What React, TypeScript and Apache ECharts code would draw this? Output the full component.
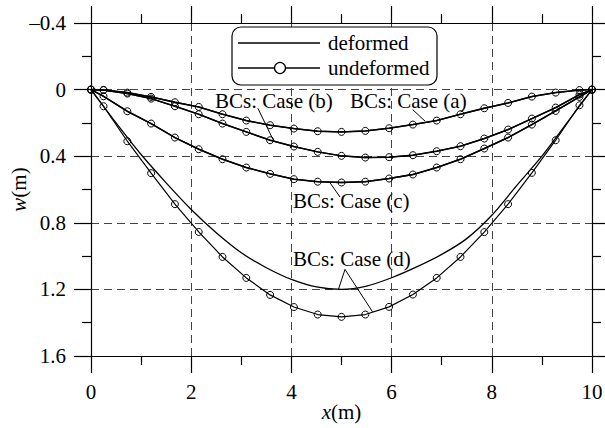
import React, { useEffect, useRef } from 'react';
import * as echarts from 'echarts';

// Node positions (m) of the undeformed configuration (markers)
const xNodes = [0, 0.25, 0.725, 1.2, 1.675, 2.15, 2.625, 3.1, 3.575, 4.05, 4.525, 5.0, 5.475, 5.95, 6.425, 6.9, 7.375, 7.85, 8.325, 8.8, 9.275, 9.75, 10];

// Undeformed deflection w (m), cases (a)-(d)
const caseAUndeformed = [0, 0.002, 0.018, 0.044, 0.076, 0.104, 0.148, 0.186, 0.214, 0.234, 0.25, 0.254, 0.248, 0.232, 0.21, 0.186, 0.148, 0.112, 0.08, 0.042, 0.018, 0.003, 0];
const caseBUndeformed = [0, 0.003, 0.024, 0.054, 0.1, 0.148, 0.204, 0.254, 0.304, 0.342, 0.374, 0.398, 0.408, 0.406, 0.394, 0.37, 0.34, 0.294, 0.24, 0.174, 0.108, 0.03, 0];
const caseCUndeformed = [0, 0.04, 0.13, 0.204, 0.288, 0.358, 0.418, 0.468, 0.506, 0.538, 0.553, 0.558, 0.553, 0.534, 0.51, 0.468, 0.418, 0.354, 0.288, 0.21, 0.128, 0.044, 0];
const caseDUndeformed = [0, 0.1, 0.31, 0.502, 0.688, 0.855, 1.005, 1.131, 1.233, 1.306, 1.351, 1.365, 1.351, 1.305, 1.231, 1.131, 1.005, 0.856, 0.688, 0.5, 0.304, 0.094, 0];

// Deformed deflection w (m): (a)-(c) coincide with the undeformed curves in the picture
const caseADeformed = [0, 0.002, 0.018, 0.044, 0.076, 0.104, 0.148, 0.186, 0.214, 0.234, 0.25, 0.254, 0.248, 0.232, 0.21, 0.186, 0.148, 0.112, 0.08, 0.042, 0.018, 0.003, 0];
const caseBDeformed = [0, 0.003, 0.024, 0.054, 0.1, 0.148, 0.204, 0.254, 0.304, 0.342, 0.374, 0.398, 0.408, 0.406, 0.394, 0.37, 0.34, 0.294, 0.24, 0.174, 0.108, 0.03, 0];
const caseCDeformed = [0, 0.04, 0.13, 0.204, 0.288, 0.358, 0.418, 0.468, 0.506, 0.538, 0.553, 0.558, 0.553, 0.534, 0.51, 0.468, 0.418, 0.354, 0.288, 0.21, 0.128, 0.044, 0];
const xDeformedD = [0, 0.5, 1, 1.5, 2, 2.5, 3, 3.5, 4, 4.5, 5, 5.5, 6, 6.5, 7, 7.5, 8, 8.5, 9, 9.5, 10];
const caseDDeformed = [0, 0.2, 0.39, 0.56, 0.72, 0.86, 0.98, 1.07, 1.14, 1.185, 1.2, 1.18, 1.13, 1.065, 0.99, 0.895, 0.755, 0.575, 0.4, 0.2, 0];

const legendNames = ['deformed', 'undeformed'];
const caseLabels = ['BCs: Case (a)', 'BCs: Case (b)', 'BCs: Case (c)', 'BCs: Case (d)'];

const FONT = "'Liberation Serif', 'Times New Roman', serif";

const pairs = (xs: number[], ys: number[]) => xs.map((x, i) => [x, ys[i]]);

export default function App() {
  const ref = useRef<HTMLDivElement>(null);
  useEffect(() => {
    document.body.style.margin = '0';
    const chart = echarts.init(ref.current!, null, { renderer: 'svg' });

    const undeformed = (ys: number[], lw: number) => ({
      type: 'line',
      name: legendNames[1],
      data: pairs(xNodes, ys),
      symbol: 'circle',
      symbolSize: 7,
      showSymbol: true,
      lineStyle: { color: '#000', width: lw },
      itemStyle: { color: 'rgba(0,0,0,0)', borderColor: '#000', borderWidth: 1 },
      z: 3,
      silent: true,
    });
    const deformed = (xs: number[], ys: number[], lw: number, smooth: any) => ({
      type: 'line',
      name: legendNames[0],
      data: pairs(xs, ys),
      symbol: 'none',
      smooth,
      lineStyle: { color: '#000', width: lw },
      z: 2,
      silent: true,
    });

    const axisCommon = {
      axisLine: { show: true, onZero: false, lineStyle: { color: '#000', width: 1.2 } },
      axisTick: { show: true, inside: false, length: 17, lineStyle: { color: '#000', width: 1.2 } },
      minorTick: { show: true, splitNumber: 2, length: 9, lineStyle: { color: '#000', width: 1.2 } },
    };
    const splitDashed = { show: true, lineStyle: { color: '#444', width: 1, type: [8, 5] } };
    const labelStyle = { color: '#000', fontFamily: FONT, fontSize: 21 };

    const yFmt = (v: number) => {
      const r = Math.round(v * 10) / 10;
      if (r === 0) return '0';
      return r < 0 ? '\u2013' + Math.abs(r).toFixed(1) : r.toFixed(1);
    };

    const option: any = {
      animation: false,
      backgroundColor: '#fff',
      grid: { left: 91, right: 13, top: 23, bottom: 72, containLabel: false, outerBoundsMode: 'none' },
      xAxis: [
        {
          type: 'value', position: 'bottom', min: 0, max: 10, interval: 2,
          ...axisCommon,
          splitLine: splitDashed,
          axisLabel: { ...labelStyle, margin: 25, formatter: (v: number) => String(Math.round(v)) },
          name: '{i|x}(m)', nameLocation: 'middle', nameGap: 45, nameMoveOverlap: false,
          nameTextStyle: { ...labelStyle, rich: { i: { ...labelStyle, fontStyle: 'italic' } } },
        },
        {
          type: 'value', position: 'top', min: 0, max: 10, interval: 2,
          ...axisCommon,
          splitLine: { show: false },
          axisLabel: { show: false },
        },
      ],
      yAxis: [
        {
          type: 'value', position: 'left', inverse: true, min: -0.4, max: 1.6, interval: 0.4,
          ...axisCommon,
          splitLine: splitDashed,
          axisLabel: { ...labelStyle, margin: 25, formatter: yFmt },
          name: '{i|w}(m)', nameLocation: 'middle', nameGap: 62, nameRotate: 90, nameMoveOverlap: false,
          nameTextStyle: { ...labelStyle, rich: { i: { ...labelStyle, fontStyle: 'italic' } } },
        },
        {
          type: 'value', position: 'right', inverse: true, min: -0.4, max: 1.6, interval: 0.4,
          ...axisCommon,
          splitLine: { show: false },
          axisLabel: { show: false },
        },
      ],
      series: [
        deformed(xNodes, caseADeformed, 1.3, false),
        deformed(xNodes, caseBDeformed, 1.3, false),
        deformed(xNodes, caseCDeformed, 1.3, false),
        deformed(xDeformedD, caseDDeformed, 1.3, 0.3),
        undeformed(caseAUndeformed, 1.5),
        undeformed(caseBUndeformed, 1.5),
        undeformed(caseCUndeformed, 1.5),
        undeformed(caseDUndeformed, 1.2),
      ],
    };
    chart.setOption(option);

    // Case annotations anchored in data coordinates
    const annotations = [
      { text: caseLabels[1], at: [2.475, 0.07], pointers: [[[3.33, 0.112], [3.64, 0.304]]] },
      { text: caseLabels[0], at: [5.17, 0.07], pointers: [[[6.42, 0.12], [6.67, 0.19]]] },
      { text: caseLabels[2], at: [4.03, 0.67], pointers: [[[4.76, 0.555], [4.97, 0.645]]] },
      { text: caseLabels[3], at: [4.03, 1.019], pointers: [[[5.07, 1.08], [4.94, 1.199]], [[5.07, 1.08], [5.62, 1.335]]] },
    ];
    const px = (p: number[]) => chart.convertToPixel({ xAxisIndex: 0, yAxisIndex: 0 }, p) as number[];
    const graphics: any[] = [];
    annotations.forEach((a) => {
      const p = px(a.at);
      graphics.push({
        type: 'text', x: p[0], y: p[1], z: 50,
        style: { text: a.text, fill: '#000', font: `21px ${FONT}`, textAlign: 'left', textVerticalAlign: 'middle' },
      });
      a.pointers.forEach((seg) => {
        const s = px(seg[0]);
        const e = px(seg[1]);
        graphics.push({ type: 'line', z: 50, shape: { x1: s[0], y1: s[1], x2: e[0], y2: e[1] }, style: { stroke: '#000', lineWidth: 1 } });
      });
    });

    // Legend box
    graphics.push({
      type: 'group', z: 100,
      children: [
        { type: 'rect', z: 100, shape: { x: 232, y: 27, width: 205, height: 58, r: 9 }, style: { fill: '#fff', stroke: '#000', lineWidth: 1.2 } },
        { type: 'line', z: 101, shape: { x1: 238, y1: 43, x2: 320, y2: 43 }, style: { stroke: '#000', lineWidth: 1.3 } },
        { type: 'text', z: 101, x: 328, y: 43, style: { text: legendNames[0], fill: '#000', font: `21px ${FONT}`, textAlign: 'left', textVerticalAlign: 'middle' } },
        { type: 'line', z: 101, shape: { x1: 238, y1: 68, x2: 320, y2: 68 }, style: { stroke: '#000', lineWidth: 1.3 } },
        { type: 'circle', z: 102, shape: { cx: 280, cy: 68, r: 5.5 }, style: { fill: '#fff', stroke: '#000', lineWidth: 1.3 } },
        { type: 'text', z: 101, x: 328, y: 68, style: { text: legendNames[1], fill: '#000', font: `21px ${FONT}`, textAlign: 'left', textVerticalAlign: 'middle' } },
      ],
    });
    chart.setOption({ graphic: graphics });

    return () => chart.dispose();
  }, []);
  return <div ref={ref} style={{ width: 605, height: 428 }} />;
}
